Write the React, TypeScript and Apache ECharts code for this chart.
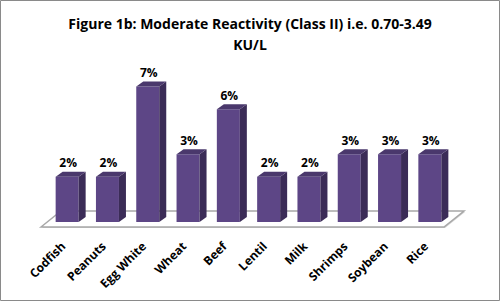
import React, { useEffect, useRef } from "react";
import * as echarts from "echarts";

const categories = ["Codfish", "Peanuts", "Egg White", "Wheat", "Beef", "Lentil", "Milk", "Shrimps", "Soybean", "Rice"];
const values = [2.3, 2.3, 6.9, 3.45, 5.75, 2.3, 2.3, 3.45, 3.45, 3.45];
const titleLines = ["Figure 1b: Moderate Reactivity (Class II) i.e. 0.70-3.49", "KU/L"];

const FRONT = "#5d4686";
const SIDE = "#3b2c57";
const TOP = "#4a386c";
const FONT = "'Open Sans', Lato, sans-serif";

export default function App() {
  const ref = useRef<HTMLDivElement>(null);
  useEffect(() => {
    if (!ref.current) return;
    const chart = echarts.init(ref.current, null, { renderer: "svg" });
    const option: any = {
      animation: false,
      backgroundColor: "#ffffff",
      title: {
        text: titleLines.join("\n"),
        left: "center",
        top: 8,
        textStyle: { fontFamily: FONT, fontWeight: "bold", fontSize: 14, color: "#000", lineHeight: 21 },
      },
      grid: { left: 47, right: 50, top: 65, bottom: 79 },
      xAxis: {
        type: "category",
        data: categories,
        axisLine: { show: false },
        axisTick: { show: false },
        axisLabel: { show: false },
      },
      yAxis: { type: "value", min: 0, max: 8, show: false, splitLine: { show: false } },
      graphic: [
        { type: "rect", shape: { x: 0.5, y: 0.5, width: 499, height: 300 }, style: { fill: "none", stroke: "#8a8a8a", lineWidth: 1 }, z: 100 },
      ],
      series: [
        {
          type: "custom",
          z: 1,
          data: [[0, 0]],
          renderItem: (params: any) => {
            const cs = params.coordSys;
            const l = cs.x, r = cs.x + cs.width, b = cs.y + cs.height;
            const pts = [[l - 6, b + 5], [l + 14, b - 11], [r + 14, b - 11], [r - 6, b + 5]];
            return {
              type: "group",
              children: [
                { type: "polygon", shape: { points: pts.map((p) => [p[0] + 1, p[1] + 1]) }, style: { fill: "#d0d0d0" } },
                { type: "polygon", shape: { points: pts }, style: { fill: "#ffffff", stroke: "#a8a8a8", lineWidth: 1.5 } },
              ],
            };
          },
        },
        {
          type: "custom",
          z: 2,
          data: values.map((v, i) => [i, v]),
          renderItem: (params: any, api: any) => {
            const idx = api.value(0);
            const v = api.value(1);
            const base = api.coord([idx, 0]);
            const top = api.coord([idx, v]);
            const bw = 23, dx = 7, dy = 5;
            const x0 = base[0] - bw / 2, x1 = base[0] + bw / 2;
            const yb = base[1], yt = top[1];
            return {
              type: "group",
              children: [
                { type: "polygon", shape: { points: [[x0, yt], [x1, yt], [x1, yb], [x0, yb]] }, style: { fill: FRONT } },
                { type: "polygon", shape: { points: [[x1, yt], [x1 + dx, yt - dy], [x1 + dx, yb - dy], [x1, yb]] }, style: { fill: SIDE } },
                { type: "polygon", shape: { points: [[x0, yt], [x0 + dx, yt - dy], [x1 + dx, yt - dy], [x1, yt]] }, style: { fill: TOP } },
                {
                  type: "text",
                  style: {
                    text: Math.round(v) + "%",
                    x: base[0] + 1,
                    y: yt - dy - 3,
                    align: "center",
                    verticalAlign: "bottom",
                    fontFamily: FONT,
                    fontWeight: "bold",
                    fontSize: 12,
                    fill: "#000",
                  },
                },
                {
                  type: "text",
                  x: base[0] - 4,
                  y: yb + 22,
                  rotation: Math.PI / 4,
                  style: {
                    text: categories[idx],
                    x: 0,
                    y: 0,
                    align: "right",
                    verticalAlign: "middle",
                    fontFamily: FONT,
                    fontWeight: "bold",
                    fontSize: 12,
                    fill: "#000",
                  },
                },
              ],
            };
          },
        },
      ],
    };
    chart.setOption(option);
    return () => chart.dispose();
  }, []);
  return <div ref={ref} style={{ position: "fixed", left: 0, top: 0, width: 500, height: 301 }} />;
}
